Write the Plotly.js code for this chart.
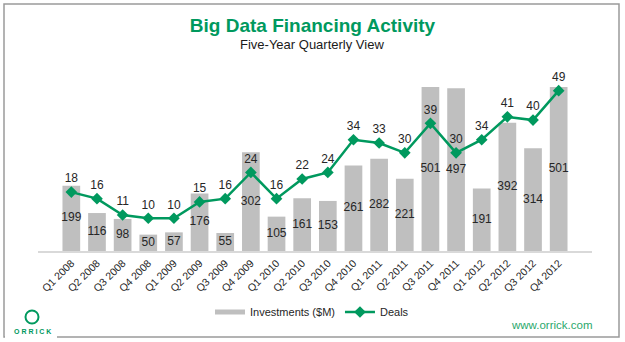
<!DOCTYPE html>
<html>
<head>
<meta charset="utf-8">
<script src="https://cdn.plot.ly/plotly-3.0.1.min.js"></script>
<style>html,body{margin:0;padding:0;background:#fff;} #chart{width:625px;height:342px;}</style>
</head>
<body>
<div id="chart"></div>
<script>
var quarters = ["Q1 2008","Q2 2008","Q3 2008","Q4 2008","Q1 2009","Q2 2009","Q3 2009","Q4 2009","Q1 2010","Q2 2010","Q3 2010","Q4 2010","Q1 2011","Q2 2011","Q3 2011","Q4 2011","Q1 2012","Q2 2012","Q3 2012","Q4 2012"];
var investments = [199,116,98,50,57,176,55,302,105,161,153,261,282,221,501,497,191,392,314,501];
var deals = [18,16,11,10,10,15,16,24,16,22,24,34,33,30,39,30,34,41,40,49];

var GREEN = '#00995E';
var FONT = 'Liberation Sans, Arial, sans-serif';
var W = 625, H = 342, ML = 38, MR = 33, MT = 71, MB = 91;
var PW = W - ML - MR, PH = H - MT - MB;
function px(x){ return (x - ML) / PW; }
function py(y){ return (H - MB - y) / PH; }

var traces = [
  {type:'bar', name:'Investments ($M)', x:quarters, y:investments, marker:{color:'#BFBFBF'}, hoverinfo:'skip', showlegend:false},
  {type:'scatter', mode:'lines', name:'Investments ($M)', x:[null], y:[null], line:{color:'#BFBFBF', width:5}, hoverinfo:'skip'},
  {type:'scatter', mode:'text', x:quarters, y:investments.map(function(v){return v/2;}), text:investments.map(String),
   textfont:{family:FONT, size:12, color:'#262626'}, showlegend:false, hoverinfo:'skip'},
  {type:'scatter', mode:'lines+markers+text', name:'Deals', x:quarters, y:deals, yaxis:'y2',
   line:{color:GREEN, width:2.5}, marker:{symbol:'diamond', size:9, color:GREEN},
   text:deals.map(String), textposition:'top center', textfont:{family:FONT, size:12, color:'#262626'}, hoverinfo:'skip'}
];

var layout = {
  width:W, height:H,
  margin:{l:ML, r:MR, t:MT, b:MB, pad:0},
  paper_bgcolor:'#fff', plot_bgcolor:'rgba(0,0,0,0)',
  font:{family:FONT, color:'#262626'},
  bargap:0.31,
  title:{text:'<b>Big Data Financing Activity</b>', font:{family:FONT, size:19, color:GREEN}, x:0.5, xref:'container', xanchor:'center', y:1-25/H, yref:'container', yanchor:'middle'},
  xaxis:{type:'category', tickangle:-45, tickfont:{family:FONT, size:10.5, color:'#262626'}, showline:true, linecolor:'#D9D9D9', linewidth:2, ticks:'', showgrid:false, zeroline:false, automargin:false},
  yaxis:{range:[0,550], visible:false, showgrid:false, zeroline:false, fixedrange:true},
  yaxis2:{range:[0,55], overlaying:'y', side:'right', visible:false, showgrid:false, zeroline:false},
  showlegend:true,
  legend:{orientation:'h', x:px(312), xanchor:'center', y:py(312), yanchor:'middle', font:{family:FONT, size:11, color:'#262626'}, bgcolor:'rgba(0,0,0,0)', traceorder:'normal', itemwidth:30},
  annotations:[
    {text:'Five-Year Quarterly View', xref:'paper', yref:'paper', x:px(312), y:py(44), xanchor:'center', yanchor:'middle', showarrow:false, font:{family:FONT, size:13, color:'#1a1a1a'}},
    {text:'www.orrick.com', xref:'paper', yref:'paper', x:px(552), y:py(325), xanchor:'center', yanchor:'middle', showarrow:false, font:{family:FONT, size:11.5, color:'#2AA86C'}},
    {text:'<b>O R R I C K</b>', xref:'paper', yref:'paper', x:px(32), y:py(331), xanchor:'center', yanchor:'middle', showarrow:false, font:{family:FONT, size:7, color:GREEN}}
  ],
  shapes:[
    {type:'rect', xref:'paper', yref:'paper', x0:px(4), x1:px(619), y0:py(4), y1:py(337), line:{color:'#9A9A9A', width:1.5}, layer:'below'},
    {type:'rect', xref:'paper', yref:'paper', x0:px(5), x1:px(57), y0:py(335), y1:py(339), line:{width:0}, fillcolor:'#fff', layer:'above'},
    {type:'circle', xref:'paper', yref:'paper', x0:px(25.5), x1:px(38.5), y0:py(310.5), y1:py(323.5), line:{color:GREEN, width:2}}
  ]
};

Plotly.newPlot('chart', traces, layout, {staticPlot:true, displayModeBar:false});
</script>
</body>
</html>
